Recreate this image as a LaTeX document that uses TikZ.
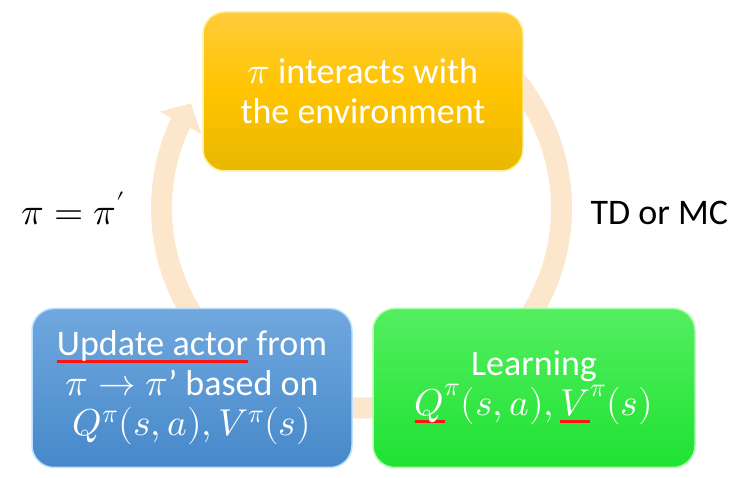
\documentclass[tikz,border=0pt]{standalone}
\usepackage{fontspec}
\usepackage{unicode-math}
\setmainfont{Carlito}
\setmathfont{Latin Modern Math}[Scale=1.04]
\usetikzlibrary{arrows.meta,bending}
\definecolor{ringc}{RGB}{252,231,204}
\definecolor{ulred}{RGB}{250,20,20}
\definecolor{envt}{RGB}{255,204,60}
\definecolor{envm}{RGB}{255,196,0}
\definecolor{envb}{RGB}{232,184,0}
\definecolor{envl}{RGB}{255,240,150}
\definecolor{updt}{RGB}{112,168,222}
\definecolor{updb}{RGB}{70,136,202}
\definecolor{updl}{RGB}{190,225,255}
\definecolor{lrnt}{RGB}{84,238,96}
\definecolor{lrnb}{RGB}{30,226,50}
\definecolor{lrnl}{RGB}{170,255,170}
\newsavebox{\ulbox}
\newcommand{\redul}[1]{\sbox{\ulbox}{#1}%
  \rlap{\textcolor{ulred}{\rule[-7.5pt]{\wd\ulbox}{3pt}}}\usebox{\ulbox}}

\begin{document}
\begin{tikzpicture}[x=1pt,y=1pt
  ,box/.style={rounded corners=22pt,minimum width=320pt
  ,minimum height=159pt,align=center,text=white
  ,font=\fontsize{36}{40}\selectfont,line width=1.5pt}
  ,ring/.style={draw=ringc,line width=21pt
  ,-{Triangle[width=46pt,length=22pt,flex]}}
  ,lbl/.style={anchor=base west,font=\fontsize{36}{40}\selectfont}]
  \useasboundingbox (0,0) rectangle (741,478);

  % the cycle, behind the boxes
  \coordinate (c) at (361.5,270);
  \draw[ring] (c) ++(60:200) arc[start angle=60,end angle=-211.5,radius=200];

  \node[box,draw=envl,top color=envt,bottom color=envb,middle color=envm]
  (env) at (363,386.5) {$\pi$ interacts with\\the environment};
  \node[box,draw=updl,top color=updt,bottom color=updb]
  (upd) at (192,90) {\redul{Update actor} from\\
    $\pi\rightarrow\pi$’ based on\\$Q^{\pi}(s,a),V^{\pi}(s)$};
  \node[box,draw=lrnl,top color=lrnt,bottom color=lrnb,minimum width=322pt]
  (lrn) at (534,90) {Learning\\
    $\redul{$Q$}^{\pi}(s,a),\redul{$V$}^{\pi}(s)$};

  \node[lbl] (upi) at (18,253) {$\pi=\pi'$};
  \node[lbl] (tdmc) at (587,253) {TD or MC};
\end{tikzpicture}
\end{document}
